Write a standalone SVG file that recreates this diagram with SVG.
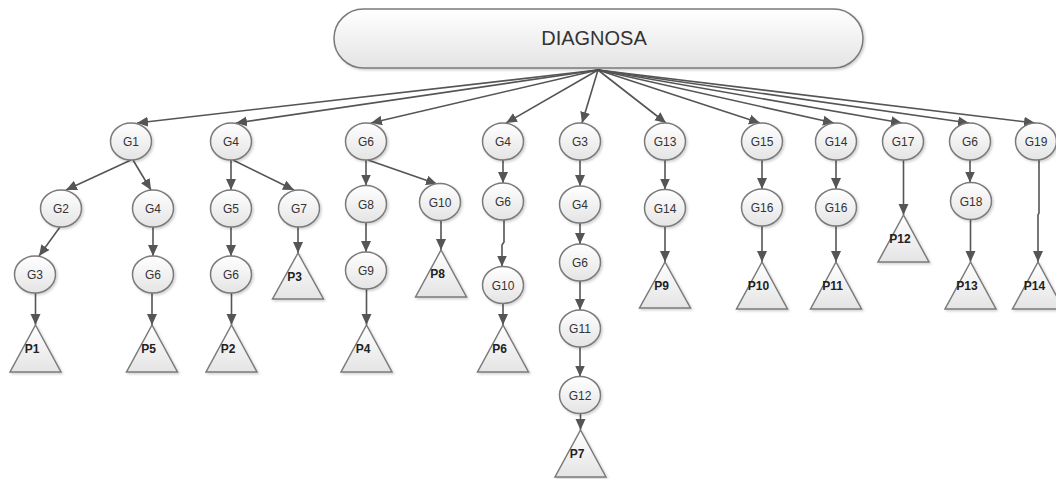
<svg xmlns="http://www.w3.org/2000/svg" width="1056" height="479" viewBox="0 0 1056 479">
<defs>
<linearGradient id="gf" x1="0" y1="0" x2="0" y2="1"><stop offset="0" stop-color="#ffffff"/><stop offset="1" stop-color="#e4e4e4"/></linearGradient>
<filter id="sh" x="-20%" y="-20%" width="150%" height="150%"><feDropShadow dx="1.5" dy="1.5" stdDeviation="1" flood-color="#000" flood-opacity="0.18"/></filter>
<marker id="ar" viewBox="0 0 11 11" markerWidth="11" markerHeight="11" refX="11" refY="5.5" orient="auto" markerUnits="userSpaceOnUse"><path d="M0,0.5 L11,5.5 L0,10.5 z" fill="#555"/></marker>
</defs>
<style>
.n ellipse,.n rect,.n polygon{fill:url(#gf);stroke:#7a7a7a;stroke-width:1.5;filter:url(#sh)}
.n text{font-family:"Liberation Sans",Arial,sans-serif;font-size:12px;fill:#333;text-anchor:middle}
.n text.p{font-weight:bold;fill:#222}
.n text.r{font-size:20px}
#edges line,#edges polyline{stroke:#555;stroke-width:1.6;fill:none;marker-end:url(#ar)}
</style>
<rect width="1056" height="479" fill="#fff"/>
<g id="edges">
<line x1="598" y1="70" x2="137" y2="123"/>
<line x1="598" y1="70" x2="236" y2="123"/>
<line x1="598" y1="70" x2="371" y2="123"/>
<line x1="598" y1="70" x2="506" y2="123"/>
<line x1="598" y1="70" x2="582" y2="123"/>
<line x1="598" y1="70" x2="666" y2="123"/>
<line x1="598" y1="70" x2="760" y2="123"/>
<line x1="598" y1="70" x2="834" y2="123"/>
<line x1="598" y1="70" x2="902" y2="123"/>
<line x1="598" y1="70" x2="969" y2="123"/>
<line x1="598" y1="70" x2="1035" y2="123"/>
<line x1="131" y1="160" x2="66" y2="190"/>
<line x1="133" y1="160" x2="151" y2="190"/>
<line x1="60" y1="227" x2="39" y2="256"/>
<line x1="153" y1="227" x2="153" y2="256"/>
<line x1="35.5" y1="293" x2="35.5" y2="325"/>
<line x1="152" y1="293" x2="152" y2="325"/>
<line x1="231" y1="160" x2="231" y2="190"/>
<line x1="233" y1="160" x2="294" y2="190"/>
<line x1="231" y1="227" x2="231" y2="256"/>
<line x1="231.5" y1="293" x2="231.5" y2="325"/>
<line x1="298" y1="227" x2="298" y2="253"/>
<line x1="366" y1="160" x2="366" y2="185.5"/>
<line x1="368" y1="160" x2="437" y2="184"/>
<line x1="366" y1="222.5" x2="366" y2="252"/>
<line x1="441" y1="220.5" x2="441" y2="250"/>
<line x1="366.5" y1="289" x2="366.5" y2="325"/>
<line x1="503" y1="160" x2="503" y2="183"/>
<polyline points="504,220 504,242 502,245 502,266.5"/>
<line x1="503" y1="303.5" x2="503" y2="325"/>
<line x1="580" y1="160" x2="580" y2="186"/>
<line x1="580" y1="223" x2="580" y2="244"/>
<line x1="580" y1="281" x2="580" y2="310"/>
<line x1="580" y1="347" x2="580" y2="376.5"/>
<line x1="580.5" y1="413.5" x2="580.5" y2="430"/>
<line x1="665" y1="160" x2="665" y2="189.5"/>
<line x1="665" y1="226.5" x2="665" y2="262"/>
<line x1="762" y1="160" x2="762" y2="189"/>
<line x1="762" y1="226" x2="762" y2="262"/>
<line x1="836" y1="160" x2="836" y2="189"/>
<line x1="836" y1="226" x2="836" y2="262"/>
<line x1="903.5" y1="160" x2="903.5" y2="215"/>
<line x1="970" y1="160" x2="970" y2="182.5"/>
<line x1="970.5" y1="219.5" x2="970.5" y2="262"/>
<polyline points="1039,160 1039,213 1038,215 1038,262"/>
</g>
<g id="root" class="n"><rect x="334" y="9" width="529" height="59" rx="29.5"/><text class="r" x="594" y="45">DIAGNOSA</text></g>
<g id="n1" class="n"><ellipse cx="131" cy="141.5" rx="20.5" ry="18.5"/><text x="131" y="146">G1</text></g>
<g id="n2" class="n"><ellipse cx="231" cy="141.5" rx="20.5" ry="18.5"/><text x="231" y="146">G4</text></g>
<g id="n3" class="n"><ellipse cx="366" cy="141.5" rx="20.5" ry="18.5"/><text x="366" y="146">G6</text></g>
<g id="n4" class="n"><ellipse cx="503" cy="141.5" rx="20.5" ry="18.5"/><text x="503" y="146">G4</text></g>
<g id="n5" class="n"><ellipse cx="580" cy="141.5" rx="20.5" ry="18.5"/><text x="580" y="146">G3</text></g>
<g id="n6" class="n"><ellipse cx="665" cy="141.5" rx="20.5" ry="18.5"/><text x="665" y="146">G13</text></g>
<g id="n7" class="n"><ellipse cx="762" cy="141.5" rx="20.5" ry="18.5"/><text x="762" y="146">G15</text></g>
<g id="n8" class="n"><ellipse cx="836" cy="141.5" rx="20.5" ry="18.5"/><text x="836" y="146">G14</text></g>
<g id="n9" class="n"><ellipse cx="903" cy="141.5" rx="20.5" ry="18.5"/><text x="903" y="146">G17</text></g>
<g id="n10" class="n"><ellipse cx="970" cy="141.5" rx="20.5" ry="18.5"/><text x="970" y="146">G6</text></g>
<g id="n11" class="n"><ellipse cx="1036" cy="141.5" rx="20.5" ry="18.5"/><text x="1036" y="146">G19</text></g>
<g id="n12" class="n"><ellipse cx="61" cy="208.5" rx="20.5" ry="18.5"/><text x="61" y="213">G2</text></g>
<g id="n13" class="n"><ellipse cx="153" cy="208.5" rx="20.5" ry="18.5"/><text x="153" y="213">G4</text></g>
<g id="n14" class="n"><ellipse cx="231" cy="208.5" rx="20.5" ry="18.5"/><text x="231" y="213">G5</text></g>
<g id="n15" class="n"><ellipse cx="299" cy="208.5" rx="20.5" ry="18.5"/><text x="299" y="213">G7</text></g>
<g id="n16" class="n"><ellipse cx="366" cy="204" rx="20.5" ry="18.5"/><text x="366" y="208.5">G8</text></g>
<g id="n17" class="n"><ellipse cx="440" cy="202" rx="20.5" ry="18.5"/><text x="440" y="206.5">G10</text></g>
<g id="n18" class="n"><ellipse cx="503" cy="201.5" rx="20.5" ry="18.5"/><text x="503" y="206">G6</text></g>
<g id="n19" class="n"><ellipse cx="580" cy="204.5" rx="20.5" ry="18.5"/><text x="580" y="209">G4</text></g>
<g id="n20" class="n"><ellipse cx="665" cy="208" rx="20.5" ry="18.5"/><text x="665" y="212.5">G14</text></g>
<g id="n21" class="n"><ellipse cx="762" cy="207.5" rx="20.5" ry="18.5"/><text x="762" y="212">G16</text></g>
<g id="n22" class="n"><ellipse cx="836" cy="207.5" rx="20.5" ry="18.5"/><text x="836" y="212">G16</text></g>
<g id="n23" class="n"><ellipse cx="971" cy="201" rx="20.5" ry="18.5"/><text x="971" y="205.5">G18</text></g>
<g id="n24" class="n"><ellipse cx="35" cy="274.5" rx="20.5" ry="18.5"/><text x="35" y="279">G3</text></g>
<g id="n25" class="n"><ellipse cx="153" cy="274.5" rx="20.5" ry="18.5"/><text x="153" y="279">G6</text></g>
<g id="n26" class="n"><ellipse cx="231" cy="274.5" rx="20.5" ry="18.5"/><text x="231" y="279">G6</text></g>
<g id="n27" class="n"><ellipse cx="366" cy="270.5" rx="20.5" ry="18.5"/><text x="366" y="275">G9</text></g>
<g id="n28" class="n"><ellipse cx="503" cy="285" rx="20.5" ry="18.5"/><text x="503" y="289.5">G10</text></g>
<g id="n29" class="n"><ellipse cx="580" cy="262.5" rx="20.5" ry="18.5"/><text x="580" y="267">G6</text></g>
<g id="n30" class="n"><ellipse cx="580" cy="328.5" rx="20.5" ry="18.5"/><text x="580" y="333">G11</text></g>
<g id="n31" class="n"><ellipse cx="580" cy="395" rx="20.5" ry="18.5"/><text x="580" y="399.5">G12</text></g>
<g id="p1" class="n"><polygon points="35.5,325 61,372 10,372"/><text class="p" x="32" y="352.5">P1</text></g>
<g id="p5" class="n"><polygon points="152,325 177.5,372 126.5,372"/><text class="p" x="148.5" y="352.5">P5</text></g>
<g id="p2" class="n"><polygon points="231.5,325 257,372 206,372"/><text class="p" x="228" y="352.5">P2</text></g>
<g id="p3" class="n"><polygon points="298,253 323.5,299 272.5,299"/><text class="p" x="294.5" y="280.5">P3</text></g>
<g id="p4" class="n"><polygon points="366.5,325 392,372 341,372"/><text class="p" x="363" y="352.5">P4</text></g>
<g id="p8" class="n"><polygon points="441,250 466.5,297 415.5,297"/><text class="p" x="437.5" y="277.5">P8</text></g>
<g id="p6" class="n"><polygon points="503,325 528.5,372 477.5,372"/><text class="p" x="499.5" y="352.5">P6</text></g>
<g id="p7" class="n"><polygon points="580.5,430 606,477 555,477"/><text class="p" x="577" y="457.5">P7</text></g>
<g id="p9" class="n"><polygon points="665,262 690.5,308 639.5,308"/><text class="p" x="661.5" y="289.5">P9</text></g>
<g id="p10" class="n"><polygon points="762,262 787.5,309 736.5,309"/><text class="p" x="758.5" y="289.5">P10</text></g>
<g id="p11" class="n"><polygon points="836,262 861.5,309 810.5,309"/><text class="p" x="832.5" y="289.5">P11</text></g>
<g id="p12" class="n"><polygon points="903.5,215 929,262 878,262"/><text class="p" x="900" y="242.5">P12</text></g>
<g id="p13" class="n"><polygon points="970.5,262 996,309 945,309"/><text class="p" x="967" y="289.5">P13</text></g>
<g id="p14" class="n"><polygon points="1038,262 1063.5,309 1012.5,309"/><text class="p" x="1034.5" y="289.5">P14</text></g>
</svg>
